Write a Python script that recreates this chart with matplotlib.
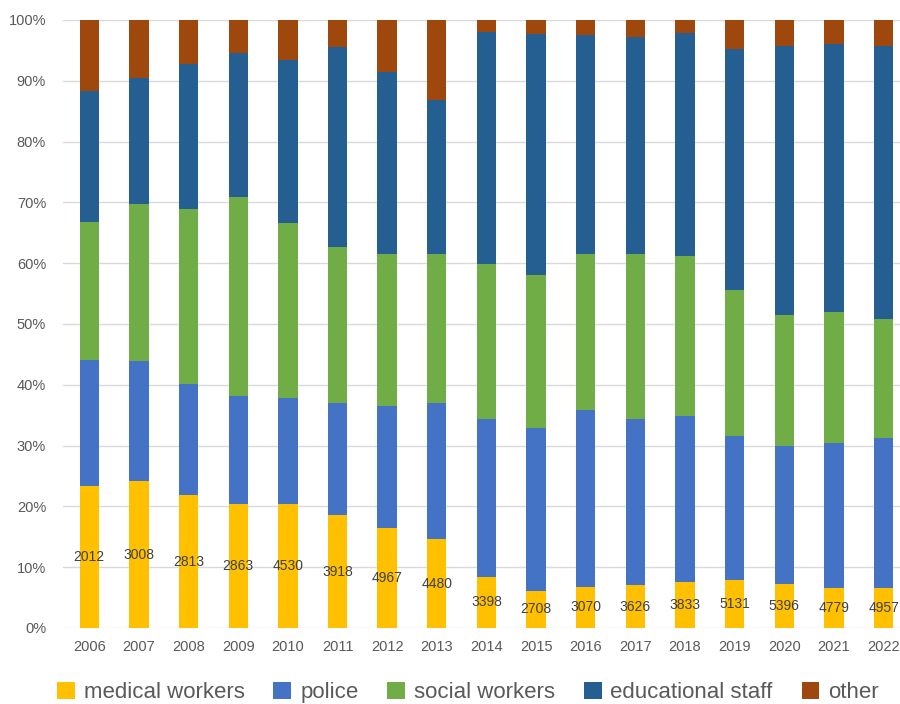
import matplotlib.pyplot as plt
import numpy as np
from matplotlib.patches import Patch

years = ["2006", "2007", "2008", "2009", "2010", "2011", "2012", "2013", "2014",
         "2015", "2016", "2017", "2018", "2019", "2020", "2021", "2022"]

# shares in percent
medical = [23.4, 24.1, 21.8, 20.4, 20.4, 18.5, 16.5, 14.6, 8.4, 6.1, 6.8, 7.0, 7.5, 7.9, 7.2, 6.6, 6.6]
police = [20.7, 19.8, 18.4, 17.8, 17.5, 18.5, 20.0, 22.4, 26.0, 26.8, 29.1, 27.4, 27.4, 23.6, 22.8, 23.9, 24.65]
social = [22.6, 25.8, 28.7, 32.7, 28.7, 25.6, 25.0, 24.5, 25.4, 25.1, 25.6, 27.1, 26.3, 24.1, 21.5, 21.5, 19.55]
educational = [21.7, 20.8, 23.9, 23.6, 26.9, 33.0, 29.9, 25.3, 38.3, 39.7, 36.0, 35.7, 36.7, 39.7, 44.3, 44.1, 45.0]
other = [11.6, 9.5, 7.2, 5.5, 6.5, 4.4, 8.6, 13.2, 1.9, 2.3, 2.5, 2.8, 2.1, 4.7, 4.2, 3.9, 4.2]

# numbers written on the yellow segments
medical_labels = [2012, 3008, 2813, 2863, 4530, 3918, 4967, 4480, 3398,
                  2708, 3070, 3626, 3833, 5131, 5396, 4779, 4957]

series = [("medical workers", medical, "#FFC000"),
          ("police", police, "#4472C4"),
          ("social workers", social, "#70AD47"),
          ("educational staff", educational, "#255E91"),
          ("other", other, "#9E480E")]

plt.rcParams['font.family'] = ['Liberation Sans', 'DejaVu Sans']

fig = plt.figure(figsize=(9, 7.04), dpi=100)
ax = fig.add_axes([0.0697, 0.108, 0.9303, 0.8636])

x = np.arange(len(years))
bottom = np.zeros(len(years))
for name, vals, col in series:
    vals = np.array(vals)
    ax.bar(x, vals, 0.39, bottom=bottom, color=col, zorder=2)
    bottom += vals

for i, lab in enumerate(medical_labels):
    ax.text(x[i], medical[i] / 2, str(lab), ha='center', va='center',
            fontsize=10, color='#404040', zorder=3)

ax.set_xlim(-0.535, 16.33)
ax.set_ylim(0, 100)
ax.set_xticks(x)
ax.set_xticklabels(years)
ax.set_yticks(np.arange(0, 101, 10))
ax.set_yticklabels([f"{v}%" for v in range(0, 101, 10)])
ax.tick_params(axis='both', length=0, labelsize=10.5, colors='#595959')
ax.tick_params(axis='x', pad=9)
ax.tick_params(axis='y', pad=12)
ax.grid(axis='y', color='#D9D9D9', linewidth=1, zorder=0)
for s in ax.spines.values():
    s.set_visible(False)

handles = [Patch(facecolor=c, label=n) for n, v, c in series]
fig.legend(handles=handles, loc='center', bbox_to_anchor=(0.52, 0.016),
           ncol=5, frameon=False, fontsize=16, handlelength=0.8,
           handleheight=0.8, handletextpad=0.4, columnspacing=1.3,
           labelcolor='#595959')

fig.savefig("out.png", dpi=100)
